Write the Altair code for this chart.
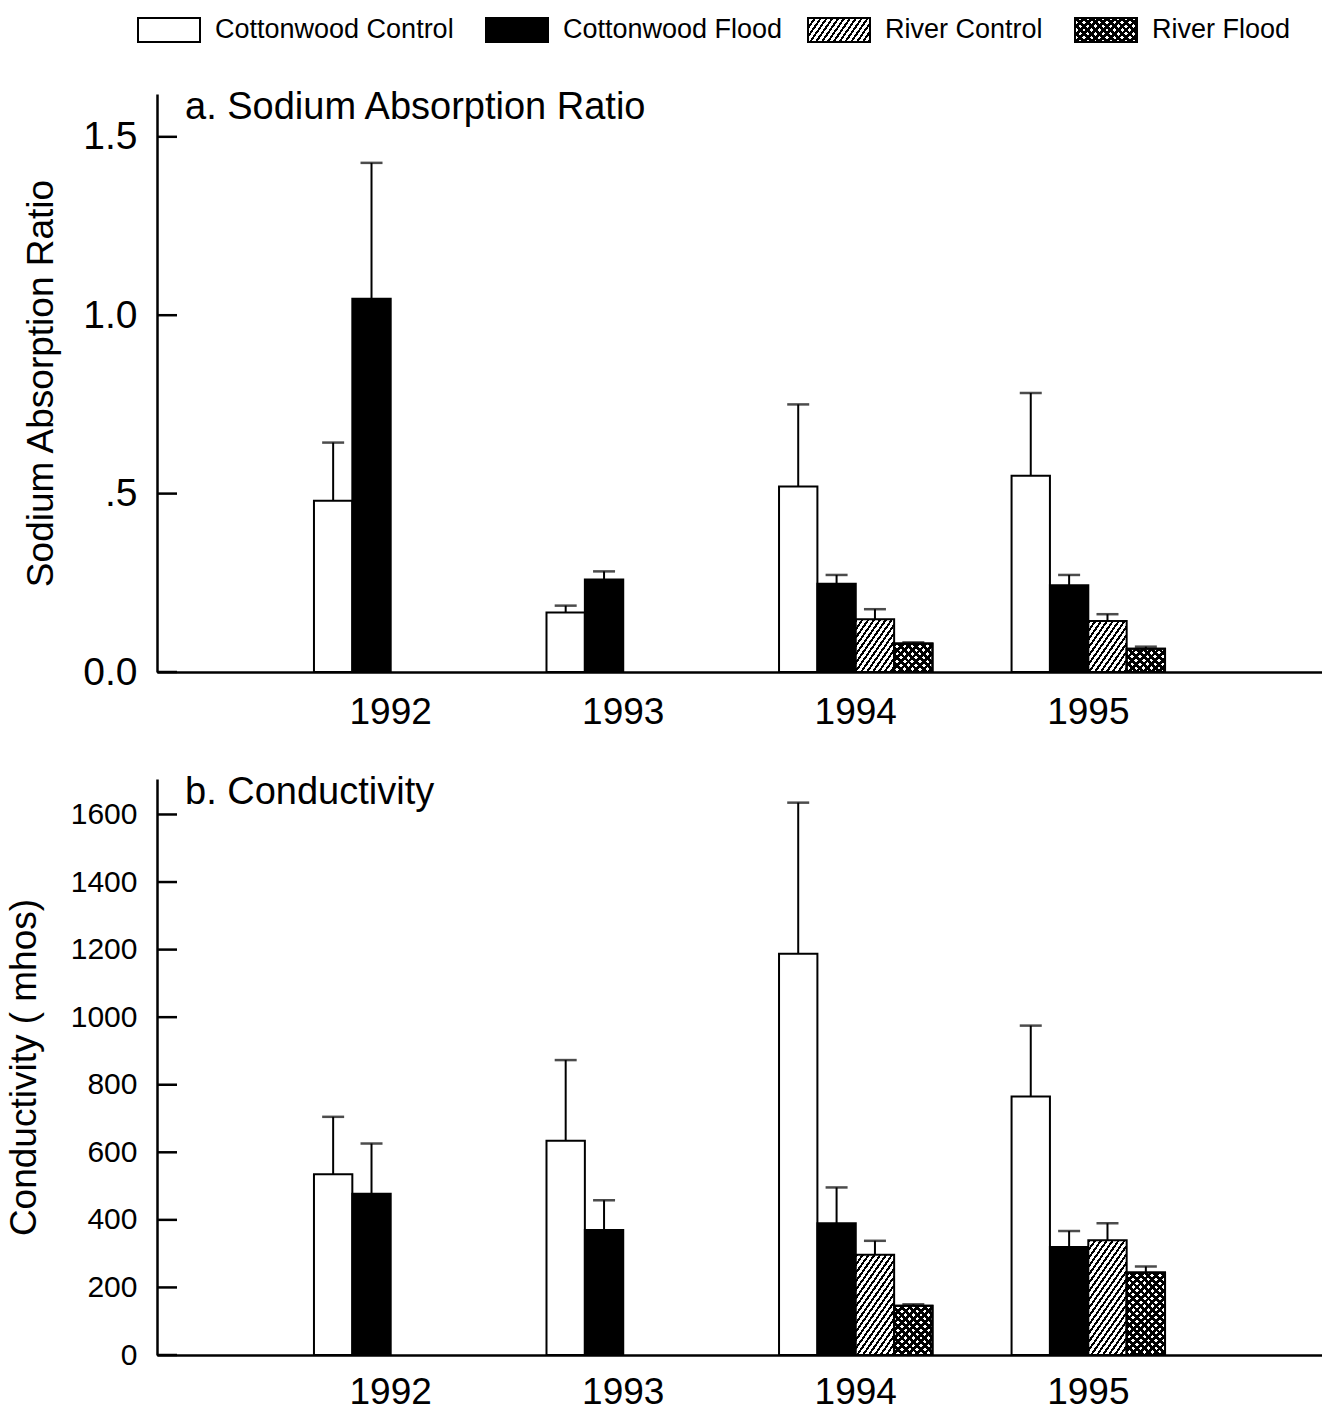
import math
import altair as alt

# ---------------- data ----------------
years = ["1992", "1993", "1994", "1995"]
series = ["Cottonwood Control", "Cottonwood Flood", "River Control", "River Flood"]

obs_year = ["1992", "1992", "1993", "1993",
            "1994", "1994", "1994", "1994",
            "1995", "1995", "1995", "1995"]
obs_series = ["Cottonwood Control", "Cottonwood Flood",
              "Cottonwood Control", "Cottonwood Flood",
              "Cottonwood Control", "Cottonwood Flood", "River Control", "River Flood",
              "Cottonwood Control", "Cottonwood Flood", "River Control", "River Flood"]

sar_mean = [0.48, 1.046, 0.167, 0.259, 0.52, 0.247, 0.148, 0.080, 0.55, 0.243, 0.143, 0.065]
sar_upper = [0.643, 1.427, 0.186, 0.282, 0.75, 0.272, 0.176, 0.083, 0.782, 0.272, 0.162, 0.071]

cond_mean = [535, 477, 634, 370, 1188, 390, 297, 146, 765, 320, 340, 244]
cond_upper = [705, 626, 873, 458, 1635, 496, 338, 150, 975, 367, 390, 262]

sar_ticks = [0.0, 0.5, 1.0, 1.5]
cond_ticks = [0, 200, 400, 600, 800, 1000, 1200, 1400, 1600]

# ---------------- layout / style ----------------
FONT = "Liberation Sans"
PLOT_W = 1165
PAD_IN, PAD_OUT = 0.34, 0.675
STEP = PLOT_W / (len(years) - PAD_IN + 2 * PAD_OUT)
BAR_W = STEP * (1 - PAD_IN) / len(series)

H_A, DOM_A = 578, 1.62
H_B, DOM_B = 576, 1705


def hatch(w, h, theta, period, ink_frac, direction, paper):
    """Linear gradient that renders as stripes at a fixed pixel angle."""
    th = math.radians(theta)
    a, b = math.sin(th), math.cos(th)
    span = a * w + b * h
    k = span / (a * a * w * w + b * b * h * h)
    if direction == "/":
        x1, y1, x2, y2 = 0, 0, a * w * k, b * h * k
    else:
        x1, y1, x2, y2 = 0, 1, a * w * k, 1 - b * h * k
    stops = []
    n = int(math.ceil(span / period))
    for i in range(n):
        s0 = min(i * period / span, 1)
        s1 = min((i + ink_frac) * period / span, 1)
        s2 = min((i + 1) * period / span, 1)
        stops += [
            {"offset": round(s0, 5), "color": "black"},
            {"offset": round(s1, 5), "color": "black"},
            {"offset": round(s1, 5), "color": paper},
            {"offset": round(s2, 5), "color": paper},
        ]
    return {"gradient": "linear", "x1": x1, "y1": y1, "x2": x2, "y2": y2, "stops": stops}


def fills(s, w, h):
    if s == "Cottonwood Control":
        return "white", None
    if s == "Cottonwood Flood":
        return "black", None
    if s == "River Control":
        return hatch(w, h, 55, 4.8, 0.42, "/", "white"), None
    return (hatch(w, h, 45, 5.4, 0.5, "/", "white"),
            hatch(w, h, 45, 5.4, 0.5, "\\", "rgba(0,0,0,0)"))


def panel(means, uppers, dom, H, ticks, title_text, y_title, label_size,
          label_kw, title_x, xlab_pad):
    recs, over = [], []
    for yr, s, m, u in zip(obs_year, obs_series, means, uppers):
        f1, f2 = fills(s, BAR_W, max(m / dom * H, 1.0))
        recs.append({"year": yr, "series": s, "mean": m, "upper": u, "fill1": f1})
        if f2 is not None:
            over.append({"year": yr, "series": s, "mean": m, "fill2": f2})

    xsc = alt.Scale(domain=years, paddingInner=PAD_IN, paddingOuter=PAD_OUT)
    xaxis = alt.Axis(ticks=False, tickSize=0, labelFontSize=37, labelPadding=xlab_pad,
                     labelAngle=0, labelColor="black", domainColor="black",
                     domainWidth=2.5, grid=False, title=None, labelFont=FONT)
    ysc = alt.Scale(domain=[0, dom], nice=False, zero=True)
    yaxis = alt.Axis(values=ticks, ticks=False, tickSize=0, labelFontSize=label_size,
                     labelPadding=20, labelColor="black", domainColor="black",
                     domainWidth=2.5, grid=False, title=y_title, titleFontSize=37,
                     titleFontWeight="normal", titleColor="black", titleX=title_x,
                     titleY=H / 2, titleBaseline="alphabetic", labelFont=FONT,
                     titleFont=FONT, **label_kw)
    x_enc = alt.X("year:N", scale=xsc, axis=xaxis)
    xo_enc = alt.XOffset("series:N", scale=alt.Scale(domain=series, paddingInner=0,
                                                     paddingOuter=0))
    data = alt.Data(values=recs)

    bars = alt.Chart(data).mark_bar(stroke="black", strokeWidth=2).encode(
        x=x_enc, xOffset=xo_enc,
        y=alt.Y("mean:Q", scale=ysc, axis=yaxis),
        fill=alt.Fill("fill1:N", scale=None),
    )
    overlay = alt.Chart(alt.Data(values=over)).mark_bar(stroke="black", strokeWidth=2).encode(
        x=x_enc, xOffset=xo_enc,
        y=alt.Y("mean:Q", scale=ysc, axis=yaxis),
        fill=alt.Fill("fill2:N", scale=None),
    )
    rules = alt.Chart(data).mark_rule(color="black", strokeWidth=2).encode(
        x=x_enc, xOffset=xo_enc,
        y=alt.Y("mean:Q", scale=ysc, axis=yaxis), y2="upper:Q",
    )
    caps = alt.Chart(data).mark_tick(color="black", thickness=2.5, size=22,
                                     orient="horizontal").encode(
        x=x_enc, xOffset=xo_enc,
        y=alt.Y("upper:Q", scale=ysc, axis=yaxis),
    )
    yt = alt.Chart(alt.Data(values=[{"v": t} for t in ticks])).mark_rule(
        color="black", strokeWidth=2.5).encode(
        y=alt.Y("v:Q", scale=ysc, axis=yaxis), x=alt.value(0), x2=alt.value(20),
    )
    ttl = alt.Chart(alt.Data(values=[{"t": title_text}])).mark_text(
        align="left", baseline="alphabetic", fontSize=38, font=FONT, color="black").encode(
        text="t:N", x=alt.value(28), y=alt.value(25),
    )
    return alt.layer(bars, overlay, rules, caps, yt, ttl).properties(width=PLOT_W, height=H)


top = panel(sar_mean, sar_upper, DOM_A, H_A, sar_ticks,
            "a. Sodium Absorption Ratio", "Sodium Absorption Ratio", 39,
            {"labelExpr": "datum.value == 0.5 ? '.5' : format(datum.value, '.1f')"},
            -105, 22)
bottom = panel(cond_mean, cond_upper, DOM_B, H_B, cond_ticks,
               "b. Conductivity", "Conductivity ( mhos)", 30,
               {"format": "d"}, -122, 19)

# ---------------- legend ----------------
LEG_X = [-19, 329, 651, 918]
SW_W, SW_H = 62, 24
leg_layers = []
for lx, s in zip(LEG_X, series):
    f1, f2 = fills(s, SW_W, SW_H)
    d = alt.Data(values=[{"s": s}])
    leg_layers.append(
        alt.Chart(d).mark_rect(stroke="black", strokeWidth=2, fill=f1).encode(
            x=alt.value(lx), x2=alt.value(lx + SW_W), y=alt.value(5), y2=alt.value(5 + SW_H)))
    if f2 is not None:
        leg_layers.append(
            alt.Chart(d).mark_rect(stroke="black", strokeWidth=2, fill=f2).encode(
                x=alt.value(lx), x2=alt.value(lx + SW_W), y=alt.value(5),
                y2=alt.value(5 + SW_H)))
    leg_layers.append(
        alt.Chart(d).mark_text(align="left", baseline="middle", fontSize=27, font=FONT,
                               color="black").encode(
            text="s:N", x=alt.value(lx + 77), y=alt.value(17)))
legend = alt.layer(*leg_layers).properties(width=PLOT_W, height=32)

chart = alt.vconcat(legend, top, bottom, spacing=44).properties(
    padding={"left": 5, "top": 13, "right": 0, "bottom": 0}
).configure(font=FONT).configure_view(strokeWidth=0, stroke="transparent")

chart.save("out.html", embed_options={"renderer": "svg", "actions": False})
